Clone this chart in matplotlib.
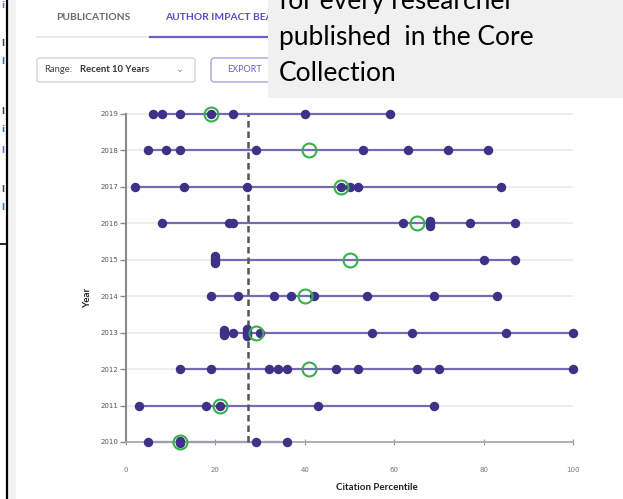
import matplotlib
matplotlib.use('Agg')
import matplotlib.pyplot as plt
from matplotlib.patches import Rectangle, FancyBboxPatch
from matplotlib.lines import Line2D
from collections import Counter

# ---------------- data ----------------
years = [2019, 2018, 2017, 2016, 2015, 2014, 2013, 2012, 2011, 2010]
p2019 = [6, 8, 12, 19, 24, 40, 59]
p2018 = [5, 9, 12, 29, 53, 63, 72, 81]
p2017 = [2, 13, 27, 48, 50, 52, 84]
p2016 = [8, 23, 24, 62, 68, 68, 68, 77, 87]
p2015 = [20, 20, 20, 20, 80, 87]
p2014 = [19, 25, 33, 37, 42, 54, 69, 83]
p2013 = [22, 22, 22, 24, 27, 27, 27, 27, 30, 55, 64, 85, 100]
p2012 = [12, 19, 32, 34, 36, 47, 52, 65, 70, 100]
p2011 = [3, 18, 21, 43, 69]
p2010 = [5, 12, 12, 29, 36]
papers = [p2019, p2018, p2017, p2016, p2015, p2014, p2013, p2012, p2011, p2010]
highlight = [19, 41, 48, 65, 50, 40, 29, 41, 21, 12]
reference_percentile = 27.3
x_ticks = [0, 20, 40, 60, 80, 100]

# ---------------- figure ----------------
W, H = 623, 499
fig = plt.figure(figsize=(W / 100, H / 100), dpi=100)
fig.patch.set_facecolor('white')

def fx(px):
    return px / W

def fy(py):
    return 1 - py / H

DOT = '#3c3286'
RANGE = '#736bb6'
GREEN = '#35b04a'

ax = fig.add_axes([fx(126), fy(442), fx(573) - fx(126), (442 - 114) / H])
ax.set_xlim(0, 100)
ax.set_ylim(2010, 2019)

for yr, vals, hl in zip(years, papers, highlight):
    ax.plot([0, 100], [yr, yr], color='#ededed', lw=1.4, zorder=1,
            solid_capstyle='butt', clip_on=False)
    ax.plot([min(vals), max(vals)], [yr, yr], color=RANGE, lw=1.6, zorder=2,
            solid_capstyle='butt', clip_on=False)
    counts = Counter(vals)
    seen = Counter()
    for v in vals:
        n = counts[v]
        k = seen[v]
        seen[v] += 1
        off = (k - (n - 1) / 2) * 0.06
        ax.plot([v], [yr + off], 'o', color=DOT, ms=6.8, mew=0, zorder=4,
                clip_on=False)
    ax.plot([hl], [yr], 'o', mfc='none', mec=GREEN, ms=10, mew=1.5, zorder=5,
            clip_on=False)

ax.plot([reference_percentile, reference_percentile], [2010, 2019],
        color='#555555', lw=1.8, dashes=(2.6, 1.6), zorder=3, clip_on=False)

ax.set_yticks(years)
ax.set_yticklabels([str(y) for y in years])
ax.set_xticks(x_ticks)
ax.set_xticklabels([str(t) for t in x_ticks])
for s in ['top', 'right']:
    ax.spines[s].set_visible(False)
ax.spines['left'].set_color('#8a8a8a')
ax.spines['left'].set_linewidth(1.5)
ax.spines['bottom'].set_color('#a8a8a8')
ax.spines['bottom'].set_linewidth(1.2)
ax.tick_params(axis='y', length=4, width=1, color='#8a8a8a', labelsize=5,
               labelcolor='#555555', pad=1.5)
ax.tick_params(axis='x', length=4, width=0.8, direction='inout',
               color='#999999', labelsize=5, labelcolor='#777777', pad=16)
ax.set_facecolor('none')

fig.text(fx(377), fy(487), 'Citation Percentile', ha='center', va='center',
         fontsize=7, fontweight='bold', color='#222222', family='Lato')
fig.text(fx(88), fy(298), 'Year', ha='center', va='center', rotation=90,
         fontsize=7, fontweight='bold', color='#222222', family='Lato')

# ---------------- UI chrome ----------------
# left slide edge
fig.add_artist(Rectangle((fx(7.5), 0), fx(8), 1, facecolor='#f3f3f3',
                         edgecolor='none', zorder=1))
fig.add_artist(Line2D([fx(6.5), fx(6.5)], [0, 1], color='black', lw=1.6, zorder=2))
fig.add_artist(Line2D([0, fx(6.5)], [fy(244), fy(244)], color='black', lw=1.2, zorder=2))
for ty, txt, col in [(6, 'i', '#8a5ad0'), (43, 'l', '#444444'), (62, 'l', '#2a6fb0'),
                     (112, 'l', '#444444'), (130, 'i', '#2a6fb0'), (150, 'l', '#8a5ad0'),
                     (189, 'l', '#444444'), (208, 'l', '#2a6fb0')]:
    fig.text(fx(1), fy(ty), txt, fontsize=6, color=col, va='center', ha='left',
             zorder=1, family='DejaVu Sans', fontweight='bold')

# tabs
fig.text(fx(93), fy(18), 'PUBLICATIONS', ha='center', va='center', fontsize=7.4,
         fontweight='bold', color='#6b6b6b', family='Lato')
fig.text(fx(165), fy(18), 'AUTHOR IMPACT BEAMPLOTS', ha='left', va='center',
         fontsize=7.4, fontweight='bold', color='#5b4fc0', family='Lato')
fig.add_artist(Line2D([fx(37), fx(268)], [fy(37), fy(37)], color='#e6e6e6', lw=1.2, zorder=2))
fig.add_artist(Line2D([fx(150), fx(268)], [fy(36.5), fy(36.5)], color='#6a5fc6', lw=1.6, zorder=2))

# range dropdown
fig.add_artist(FancyBboxPatch((fx(37), fy(82)), fx(158), (82 - 58) / H,
                              boxstyle='round,pad=0,rounding_size=0.004',
                              facecolor='white', edgecolor='#d0d0d0', lw=0.9, zorder=2))
fig.text(fx(44), fy(70), 'Range:', ha='left', va='center', fontsize=6.8,
         color='#444444', family='Lato')
fig.text(fx(80), fy(70), 'Recent 10 Years', ha='left', va='center', fontsize=6.8,
         fontweight='bold', color='#333333', family='Lato')
fig.text(fx(180), fy(69), '\u2304', ha='center', va='center', fontsize=7,
         color='#888888', family='DejaVu Sans')

# export button
fig.add_artist(FancyBboxPatch((fx(211), fy(82)), fx(80), (82 - 58) / H,
                              boxstyle='round,pad=0,rounding_size=0.006',
                              facecolor='white', edgecolor='#aaa3dc', lw=1.0, zorder=2))
fig.text(fx(227), fy(70), 'EXPORT', ha='left', va='center', fontsize=6.5,
         color='#6b62c0', family='Lato')

# grey callout box
fig.add_artist(Rectangle((fx(268), fy(98)), 1 - fx(268), 98 / H,
                         facecolor='#f0f0f0', edgecolor='none', zorder=8))
for base, line in [(9, 'for every researcher'), (45.5, 'published  in the Core'),
                   (81, 'Collection')]:
    fig.text(fx(279), fy(base), line, ha='left', va='baseline', fontsize=19,
             color='black', family='Lato', zorder=9)

fig.savefig('out.png', dpi=100)
